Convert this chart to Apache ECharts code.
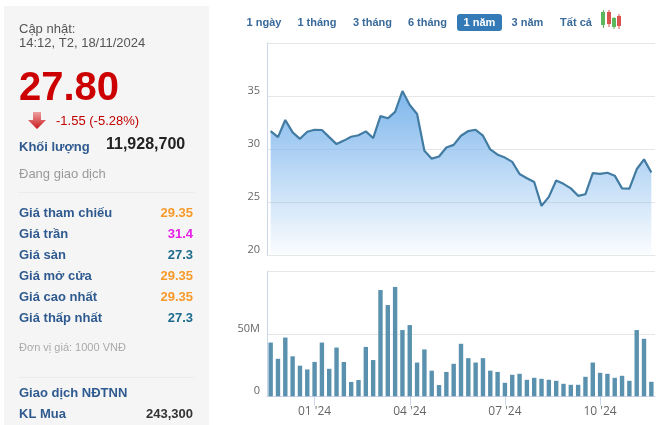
<!DOCTYPE html>
<html><head><meta charset="utf-8">
<style>html,body{margin:0;padding:0;background:#fff}#c{width:666px;height:425px}</style>
<script src="https://cdn.jsdelivr.net/npm/echarts@6/dist/echarts.min.js"></script>
</head><body><div id="c"></div>
<script>
const tickLabels = ["01 '24","04 '24","07 '24","10 '24"];
const tickIndexes = [6,19,32,45];
const prices = [31.7,31.13,32.74,31.57,30.97,31.63,31.82,31.8,31.13,30.47,30.8,31.16,31.3,31.67,31.04,33.1,32.9,33.5,35.47,34.15,33.3,29.85,29.1,29.3,30.15,30.4,31.26,31.7,31.82,31.26,29.97,29.47,29.2,28.8,27.65,27.25,26.9,24.65,25.5,27.05,26.73,26.3,25.6,25.75,27.74,27.67,27.77,27.5,26.3,26.27,28.1,29.03,27.8];
const volumes = [43,30,47,32,24.5,21.5,27.5,43,22,39,27.5,11.5,13,39.5,29,85,73,87.5,53,57,27,37.5,20.5,9,19.5,26,42,30.5,27,30.5,20.5,19.5,10.8,17.2,18,13.2,14.8,14,13.2,12.4,10,9.2,9.2,15.6,27,18.8,18,14.8,16.4,12.4,53,46,11.6];
const weeks = prices.map((_, i) => { const k = tickIndexes.indexOf(i); return k >= 0 ? tickLabels[k] : ''; });

const infoRows = [['Giá tham chiếu','29.35','#f79a2a'],['Giá trần','31.4','#e61ee6'],['Giá sàn','27.3','#1d6a8c'],['Giá mở cửa','29.35','#f79a2a'],['Giá cao nhất','29.35','#f79a2a'],['Giá thấp nhất','27.3','#1d6a8c']];
const rangeButtons = [['1 ngày',264],['1 tháng',317],['3 tháng',372.5],['6 tháng',427.5],['3 năm',527.5],['Tất cả',576]];
const FONT = '"Liberation Sans", Arial, sans-serif';
const AXFONT = '"Open Sans", sans-serif';
const BLUE = '#2f5a8f';
const t = (x,y,text,size,fill,weight,align) => ({type:'text',x,y,silent:true,style:{text,fill,font:(weight||'normal')+' '+size+'px '+FONT,textAlign:align||'left',textVerticalAlign:'middle'}});
const r = (x,y,w,h,fill,rad) => ({type:'rect',silent:true,shape:{x,y,width:w,height:h,r:rad||0},style:{fill}});

const graphics = [
  Object.assign(r(4,6,205,419,'#f5f5f5'),{z:-1}),
  t(19,29,'Cập nhật:',13,'#555'),
  t(19,43,'14:12, T2, 18/11/2024',13,'#555'),
  t(19,89,'27.80',40,'#cc0000','bold'),
  {type:'polygon',silent:true,shape:{points:[[33,112],[41,112],[41,120],[46,120],[37,129],[28,120],[33,120]]},style:{fill:new echarts.graphic.LinearGradient(0,0,0,1,[{offset:0,color:'#eea0a0'},{offset:1,color:'#c81818'}])}},
  t(56,121,'-1.55 (-5.28%)',13,'#c00000'),
  t(19,147,'Khối lượng',13,BLUE,'bold'),
  t(106,145,'11,928,700',16,'#222','bold'),
  t(19,174,'Đang giao dịch',13,'#999'),
  r(18,192,177,1,'#ececec'),
  t(19,348,'Đơn vị giá: 1000 VNĐ',11,'#aaa'),
  r(18,377,177,1,'#ececec'),
  t(19,393,'Giao dịch NĐTNN',13,BLUE,'bold'),
  t(19,414,'KL Mua',13,BLUE,'bold'),
  t(193,414,'243,300',13,'#333','bold','right'),
  r(457,14,45,17,'#337ab7',3),
  t(479.5,22.5,'1 năm',11,'#fff','bold','center'),
  r(603,10,1,18,'#5cb85c'),r(601,12,4,13,'#5cb85c'),
  r(608.5,10,1,17,'#d9534f'),r(607,12,4,12,'#d9534f'),
  r(613.5,17,1,12,'#5cb85c'),r(612,18,4,9,'#5cb85c'),
  r(618.5,14,1,15,'#d9534f'),r(617,16,4,10,'#d9534f'),
];
infoRows.forEach((row,i)=>{
  const y = 213.5 + i*21;
  graphics.push(t(19,y,row[0],13,BLUE,'bold'), t(193,y,row[1],13,row[2],'bold','right'));
});
rangeButtons.forEach(b=>graphics.push(t(b[1],22.5,b[0],11,'#3a6a9a','bold','center')));

const chart = echarts.init(document.getElementById('c'),null,{renderer:'canvas'});
const AXIS='#ccd6eb', GRID='#e6e6e6', LABEL='#666';
const yLabel = {color:LABEL,fontFamily:AXFONT,fontSize:11,margin:7,verticalAlign:'bottom',lineHeight:10};
chart.setOption({
  animation:false,
  textStyle:{fontFamily:FONT},
  graphic:{elements:graphics},
  grid:[
    {left:267,width:388,top:42.9,height:212.4},
    {left:267,width:388,top:271.3,height:125}
  ],
  xAxis:[
    {type:'category',gridIndex:0,data:weeks,boundaryGap:true,
      axisLine:{lineStyle:{color:GRID}},axisTick:{show:false},axisLabel:{show:false},splitLine:{show:false}},
    {type:'category',gridIndex:1,data:weeks,boundaryGap:true,
      axisLine:{lineStyle:{color:AXIS}},
      axisTick:{show:true,alignWithLabel:true,length:9,lineStyle:{color:AXIS},interval:(i)=>tickIndexes.includes(i)},
      axisLabel:{show:true,color:LABEL,fontFamily:AXFONT,fontSize:12,margin:9,interval:(i)=>tickIndexes.includes(i),hideOverlap:false}}
  ],
  yAxis:[
    {type:'value',gridIndex:0,min:20,max:40,interval:5,
      axisLine:{show:true,lineStyle:{color:AXIS}},axisTick:{show:false},
      splitLine:{show:true,lineStyle:{color:GRID}},
      axisLabel:Object.assign({},yLabel,{showMaxLabel:false})},
    {type:'value',gridIndex:1,min:0,max:100,interval:50,
      axisLine:{show:true,lineStyle:{color:AXIS}},axisTick:{show:false},
      splitLine:{show:true,lineStyle:{color:GRID}},
      axisLabel:Object.assign({},yLabel,{formatter:v=>v===0?'0':(v===100?'':v+'M')})}
  ],
  series:[
    {type:'line',xAxisIndex:0,yAxisIndex:0,data:prices,symbol:'none',smooth:false,
      lineStyle:{color:'#427ca3',width:2.2},
      areaStyle:{origin:'start',opacity:1,color:new echarts.graphic.LinearGradient(0,0,0,1,[{offset:0,color:'rgba(124,181,236,0.98)'},{offset:1,color:'rgba(124,181,236,0.03)'}])}},
    {type:'bar',xAxisIndex:1,yAxisIndex:1,data:volumes,barWidth:4.4,itemStyle:{color:'#5a91ae'}}
  ]
});
</script></body></html>
